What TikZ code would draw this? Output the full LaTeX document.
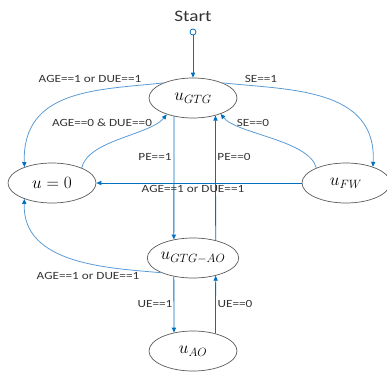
\documentclass[tikz,border=0pt]{standalone}
\usepackage[no-math]{fontspec}
\newfontfamily\lblfont{Carlito}[FakeStretch=1.2]
\usetikzlibrary{arrows.meta,shapes.geometric}
\definecolor{arrblue}{RGB}{0,112,192}
\definecolor{curblue}{RGB}{91,155,213}
\definecolor{edgegray}{RGB}{89,89,89}

\begin{document}
\begin{tikzpicture}[x=1pt,y=-1pt,
  st/.style={ellipse,draw=edgegray,line width=0.7pt,minimum width=88pt,minimum height=40pt,inner sep=0pt,font=\fontsize{17.5}{20}\selectfont},
  lab/.style={font=\lblfont\fontsize{11}{13}\selectfont,text=black!80,inner sep=0pt},
  tr/.style={draw=arrblue,line width=0.8pt,-{Triangle[length=5pt,width=4.2pt]}},
  crv/.style={draw=curblue,line width=0.8pt,-{Triangle[length=5pt,width=4.2pt,color=arrblue]}}]
\useasboundingbox (0,0) rectangle (387,372);

% states
\node[font=\lblfont\fontsize{16}{19}\selectfont,text=black!80] (start) at (193,16) {Start};
\node[circle,draw=arrblue,fill=white,line width=0.8pt,minimum size=6pt,inner sep=0pt] (init) at (193,32) {};
\node[st] (gtg) at (193,98) {$u_{GTG}$};
\node[st] (zero) at (52,183) {$u=0$};
\node[st] (fw) at (346,183) {$u_{FW}$};
\node[st] (gtgao) at (193,258) {$u_{GTG-AO}$};
\node[st] (ao) at (193,351) {$u_{AO}$};

% straight transitions
\draw[tr] (init) -- (gtg);
\draw[tr] (gtg.224) -- (gtgao.136);
\draw[tr] (gtgao.38) -- (gtg.322);
\draw[tr] (gtgao.224) -- (ao.136);
\draw[tr] (ao.38) -- (gtgao.322);
\draw[tr] (fw.west) -- (zero.east);

% curved transitions
\draw[crv] (gtg.153) .. controls (100,90) and (22,88) .. (zero.150);
\draw[crv] (zero.27) .. controls (88,140) and (150,135) .. (gtg.212);
\draw[crv] (gtg.27) .. controls (290,90) and (377,88) .. (fw.31);
\draw[crv] (fw.153) .. controls (309,140) and (237,134) .. (gtg.330);
\draw[crv] (gtgao.205) .. controls (110,268) and (22,265) .. (zero.210);

% guards
\node[lab] (g1) at (90,79) {AGE==1 or DUE==1};
\node[lab] (g2) at (261,79) {SE==1};
\node[lab] (g3) at (102,123) {AGE==0 \& DUE==0};
\node[lab] (g4) at (253,123) {SE==0};
\node[lab] (g5) at (155,157) {PE==1};
\node[lab] (g6) at (234,157) {PE==0};
\node[lab] (g7) at (193,189) {AGE==1 or DUE==1};
\node[lab] (g8) at (88,276) {AGE==1 or DUE==1};
\node[lab] (g9) at (155,304) {UE==1};
\node[lab] (g10) at (235,304) {UE==0};
\end{tikzpicture}
\end{document}
